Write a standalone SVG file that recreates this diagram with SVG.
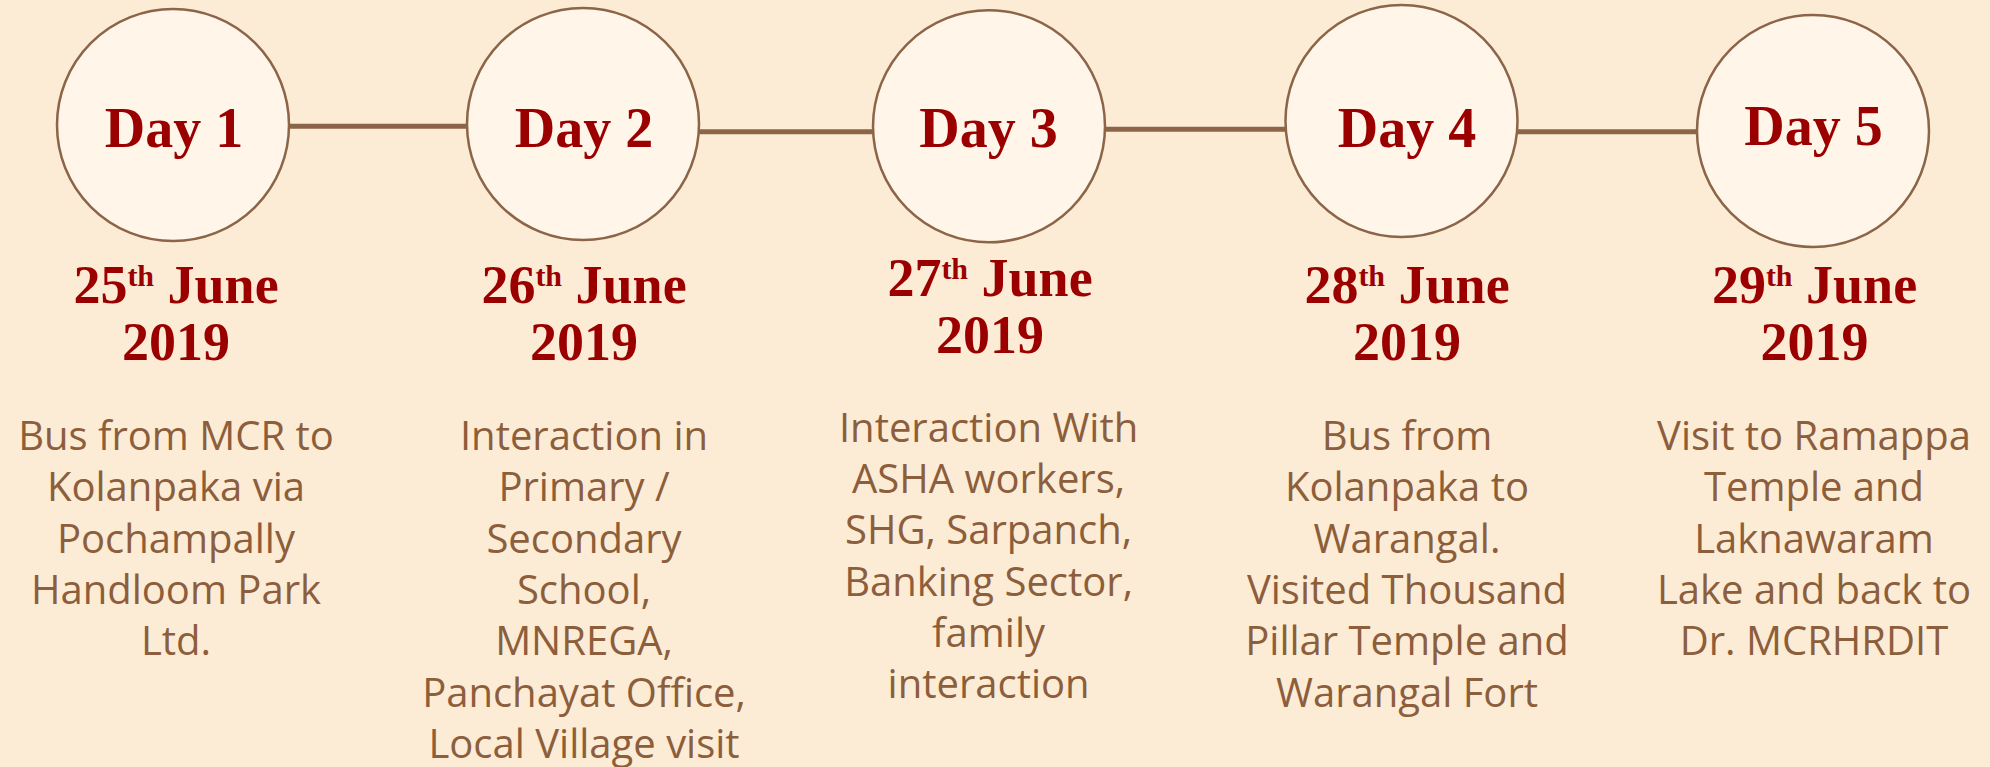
<svg xmlns="http://www.w3.org/2000/svg" width="1990" height="767" viewBox="0 0 1990 767">
<style>
.bg{fill:#FDECD5}
.node circle{fill:#FFF6E9;stroke:#8C6447;stroke-width:2.5}
.day{font-family:"Liberation Serif",serif;font-weight:bold;font-size:56px;fill:#9B0000;text-anchor:middle}
.date{font-family:"Liberation Serif",serif;font-weight:bold;font-size:54px;fill:#9B0000;text-anchor:middle}
.sup{font-size:30px}
.body{font-family:"Open Sans","Noto Sans",sans-serif;font-size:40px;fill:#8C5E3C;text-anchor:middle}
.conn line{stroke:#8C6447;stroke-width:5}
</style>
<rect class="bg" x="0" y="0" width="1990" height="767"/>
<g id="connectors" class="conn">
<line x1="289" y1="126.3" x2="468" y2="126.3"/>
<line x1="698" y1="131.8" x2="873" y2="131.8"/>
<line x1="1104" y1="129.3" x2="1286" y2="129.3"/>
<line x1="1517" y1="131.8" x2="1697" y2="131.8"/>
</g>
<g id="day1" class="node">
<circle cx="173" cy="125" r="116"/>
<text class="day" x="174" y="146.7">Day 1</text>
<text class="date" x="176" y="303">25<tspan class="sup" dy="-17">th</tspan><tspan dy="17"> June</tspan></text>
<text class="date" x="176" y="360">2019</text>
<text class="body" x="176"><tspan x="176" y="450">Bus from MCR to</tspan><tspan x="176" y="501.3">Kolanpaka via</tspan><tspan x="176" y="552.6">Pochampally</tspan><tspan x="176" y="603.9">Handloom Park</tspan><tspan x="176" y="655.2">Ltd.</tspan></text>
</g>
<g id="day2" class="node">
<circle cx="583" cy="124" r="116"/>
<text class="day" x="584" y="146.7">Day 2</text>
<text class="date" x="584" y="303">26<tspan class="sup" dy="-17">th</tspan><tspan dy="17"> June</tspan></text>
<text class="date" x="584" y="360">2019</text>
<text class="body" x="584"><tspan x="584" y="450">Interaction in</tspan><tspan x="584" y="501.3">Primary /</tspan><tspan x="584" y="552.6">Secondary</tspan><tspan x="584" y="603.9">School,</tspan><tspan x="584" y="655.2">MNREGA,</tspan><tspan x="584" y="706.5">Panchayat Office,</tspan><tspan x="584" y="757.8">Local Village visit</tspan></text>
</g>
<g id="day3" class="node">
<circle cx="989" cy="126.3" r="116"/>
<text class="day" x="988.5" y="146.7">Day 3</text>
<text class="date" x="990" y="296">27<tspan class="sup" dy="-17">th</tspan><tspan dy="17"> June</tspan></text>
<text class="date" x="990" y="353">2019</text>
<text class="body" x="988.6"><tspan x="988.6" y="441.7">Interaction With</tspan><tspan x="988.6" y="493">ASHA workers,</tspan><tspan x="988.6" y="544.3">SHG, Sarpanch,</tspan><tspan x="988.6" y="595.6">Banking Sector,</tspan><tspan x="988.6" y="646.9">family</tspan><tspan x="988.6" y="698.2">interaction</tspan></text>
</g>
<g id="day4" class="node">
<circle cx="1401.5" cy="121" r="116"/>
<text class="day" x="1407" y="146.7">Day 4</text>
<text class="date" x="1407" y="303">28<tspan class="sup" dy="-17">th</tspan><tspan dy="17"> June</tspan></text>
<text class="date" x="1407" y="360">2019</text>
<text class="body" x="1407"><tspan x="1407" y="450">Bus from</tspan><tspan x="1407" y="501.3">Kolanpaka to</tspan><tspan x="1407" y="552.6">Warangal.</tspan><tspan x="1407" y="603.9">Visited Thousand</tspan><tspan x="1407" y="655.2">Pillar Temple and</tspan><tspan x="1407" y="706.5">Warangal Fort</tspan></text>
</g>
<g id="day5" class="node">
<circle cx="1813" cy="131" r="116"/>
<text class="day" x="1813.5" y="145">Day 5</text>
<text class="date" x="1814.5" y="303">29<tspan class="sup" dy="-17">th</tspan><tspan dy="17"> June</tspan></text>
<text class="date" x="1814.5" y="360">2019</text>
<text class="body" x="1814"><tspan x="1814" y="450">Visit to Ramappa</tspan><tspan x="1814" y="501.3">Temple and</tspan><tspan x="1814" y="552.6">Laknawaram</tspan><tspan x="1814" y="603.9">Lake and back to</tspan><tspan x="1814" y="655.2">Dr. MCRHRDIT</tspan></text>
</g>
</svg>
